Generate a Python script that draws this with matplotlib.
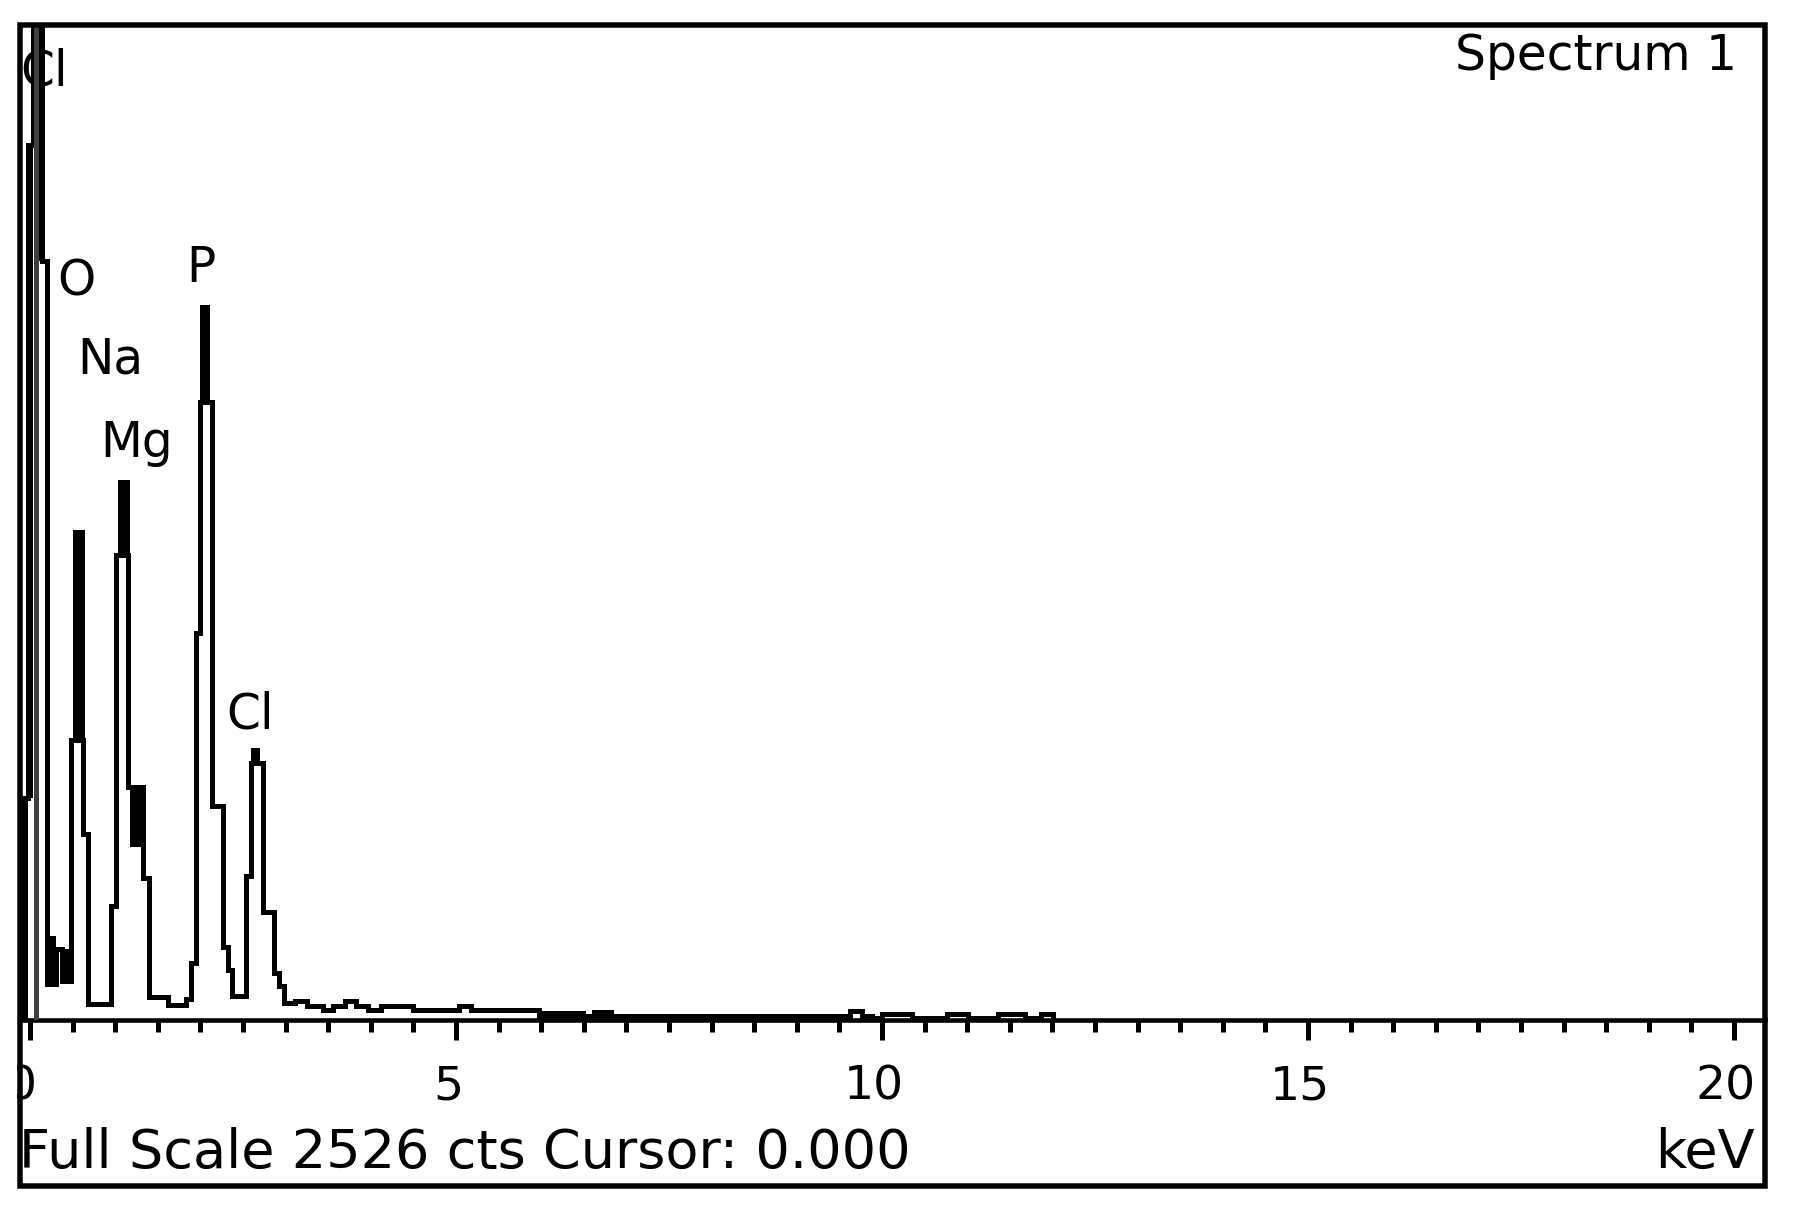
import matplotlib
matplotlib.use("Agg")
import matplotlib.pyplot as plt
from matplotlib.patches import Rectangle
from matplotlib.transforms import ScaledTranslation
import numpy as np

# --- spectrum ---
# step edges in keV (one more than counts), counts per step
edges = [-0.095, -0.02, 0.04, 0.14, 0.205, 0.31, 0.37, 0.48, 0.625, 0.675,
         0.95, 1.007, 1.145, 1.33, 1.40, 1.62, 1.83, 1.89, 1.945, 2.00,
         2.135, 2.26, 2.32, 2.37, 2.53, 2.59, 2.74, 2.865, 2.925, 2.98,
         3.11, 3.25, 3.44, 3.56, 3.70, 3.83, 3.97, 4.12, 4.50, 5.04,
         5.18, 5.98, 6.85, 9.63, 9.77, 9.88, 10.00, 10.35, 10.76, 11.01,
         11.36, 11.68, 11.87, 12.01]
counts = [563, 2220, 2526, 1926, 91, 178, 97, 710, 470, 39,
          287, 1180, 590, 360, 58, 38, 51, 144, 982, 1567,
          543, 184, 125, 60, 364, 650, 272, 118, 85, 42,
          48, 35, 25, 35, 46, 35, 25, 35, 25, 35,
          25, 10, 8, 22, 10, 5, 15, 3, 15, 3,
          15, 3, 15]

# spots where neighbouring channels scatter (drawn solid black)
band_start = [-0.095, -0.02, 0.105, 0.19, 0.37, 0.505, 1.03, 1.17, 2.00, 2.59, 5.98, 6.24, 6.32, 6.60]
band_end = [-0.02, 0.04, 0.176, 0.31, 0.47, 0.64, 1.17, 1.33, 2.11, 2.70, 6.24, 6.32, 6.52, 6.85]
band_low = [0, 563, 1926, 91, 97, 710, 1180, 439, 1567, 650, 3, 12, 3, 3]
band_high = [563, 2220, 2526, 211, 178, 1243, 1370, 590, 1813, 690, 22, 22, 22, 24]

# element labels (left edge in keV, baseline in counts)
peak_labels = ["Cl", "O", "Na", "Mg", "P", "Cl"]
label_kev = [-0.117, 0.317, 0.552, 0.822, 1.831, 2.30]
label_cts = [2372, 1839, 1641, 1427, 1873, 739]

full_scale = 2526
cursor_kev = 0.068
major_ticks = [0, 5, 10, 15, 20]

# --- figure in pixel terms ---
W, H = 1797, 1214
fig = plt.figure(figsize=(W / 100, H / 100), dpi=100)
PT = 72 / 100  # points per pixel


def fx(px):
    return px / W


def fy(py):
    return 1 - py / H


ax_left, ax_right, ax_top, ax_bottom = 19.5, 1765, 24.5, 1019.5
ax = fig.add_axes([fx(ax_left), fy(ax_bottom), (ax_right - ax_left) / W, (ax_bottom - ax_top) / H])
px_per_kev = 85.2
x0_px = 30
ax.set_xlim((ax_left - x0_px) / px_per_kev, (ax_right - x0_px) / px_per_kev)
ax.set_ylim(0, full_scale)

# spectrum outline + dense black spots
heights = np.array(band_high) - np.array(band_low)
widths = np.array(band_end) - np.array(band_start)
ax.bar(band_start, heights, width=widths, bottom=band_low, align="edge",
       color="black", linewidth=0, zorder=3)
st = ax.stairs(counts, edges, color="black", linewidth=5 * PT, zorder=3, baseline=0)
st.set_joinstyle("miter")

ax.axvline(cursor_kev, color="#404040", linewidth=5 * PT, zorder=4)

for lbl, xk, yc in zip(peak_labels, label_kev, label_cts):
    ax.text(xk, yc, lbl, ha="left", va="baseline", fontsize=35, zorder=2)

# axis: ticks below the line, no y axis
for side in ["left", "right", "top"]:
    ax.spines[side].set_visible(False)
ax.spines["bottom"].set_linewidth(4.6 * PT)
ax.set_yticks([])
ax.set_xticks(major_ticks)
ax.set_xticks(np.arange(0, 20.01, 0.5), minor=True)
ax.tick_params(axis="x", which="major", direction="out", length=20 * PT, width=5 * PT,
               labelbottom=False)
ax.tick_params(axis="x", which="minor", direction="out", length=12 * PT, width=5 * PT)

lbl_tf = ax.get_xaxis_transform() + ScaledTranslation(-8 / 100, -(1099 - ax_bottom) / 100, fig.dpi_scale_trans)
for v in major_ticks:
    ax.text(v, 0, str(v), transform=lbl_tf, ha="center", va="baseline", fontsize=34, clip_on=False)

# window frame and status texts
fig.add_artist(Rectangle((0, 0), fx(17), 1, transform=fig.transFigure,
                         facecolor="white", edgecolor="none", zorder=9))
frame = Rectangle((fx(ax_left), fy(1186)), (ax_right - ax_left) / W, (1186 - ax_top) / H,
                  transform=fig.transFigure, fill=False, edgecolor="black",
                  linewidth=5.5 * PT, joinstyle="miter", zorder=10)
fig.add_artist(frame)

fig.text(fx(1737), fy(70), "Spectrum 1", ha="right", va="baseline", fontsize=35)
fig.text(fx(19), fy(1168), "Full Scale 2526 cts Cursor: 0.000", ha="left", va="baseline", fontsize=39)
fig.text(fx(1755), fy(1168), "keV", ha="right", va="baseline", fontsize=39)

fig.savefig("out.png", dpi=100, facecolor="white")
